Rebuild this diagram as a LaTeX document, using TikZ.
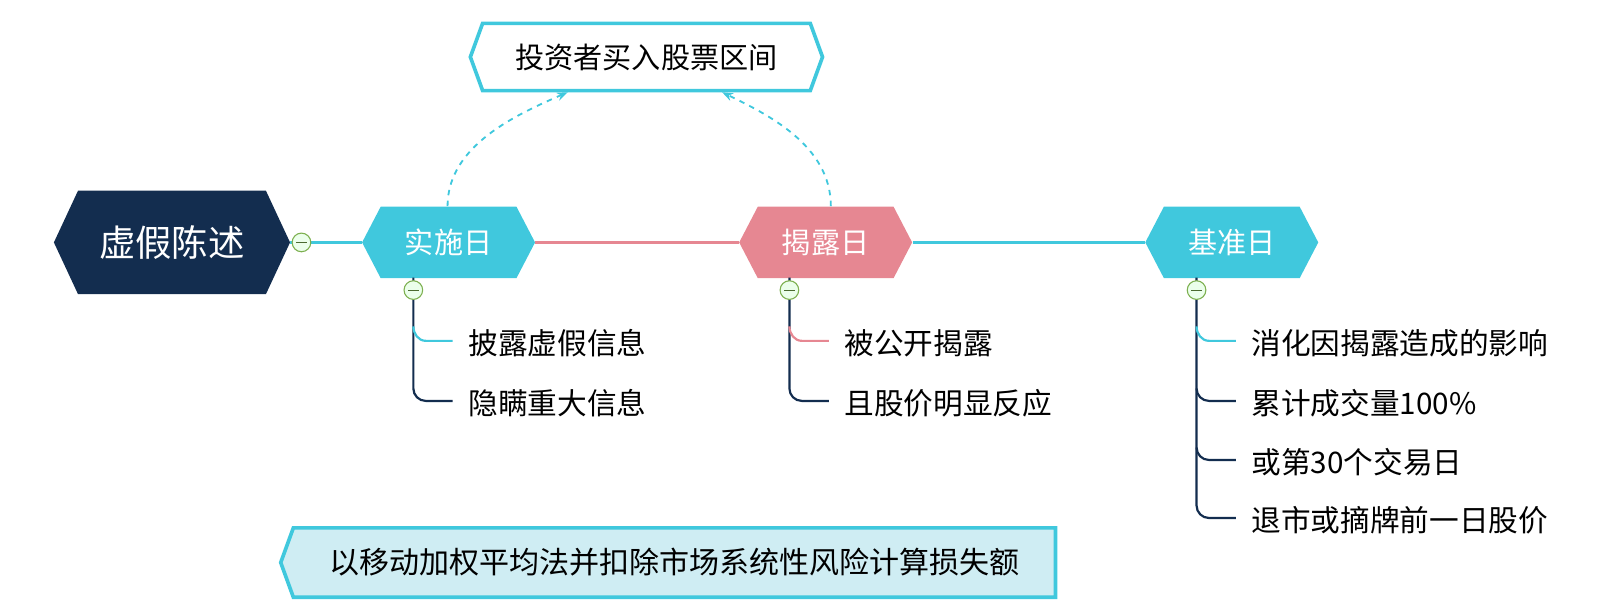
\documentclass[tikz,border=0pt]{standalone}
\usepackage{fontspec}
\setmainfont{Noto Sans CJK SC}
\usetikzlibrary{shapes.symbols,arrows.meta}
\definecolor{navy}{HTML}{132D4F}
\definecolor{cyanb}{HTML}{40C8DD}
\definecolor{pinkb}{HTML}{E68792}
\definecolor{paleb}{HTML}{CFEDF3}
\definecolor{knob}{HTML}{7DB050}
\tikzset{
  hexa/.style={signal, signal to=east and west, signal pointer angle=125, inner sep=0pt, font=\fontsize{16}{16}\selectfont},
  day/.style={hexa, fill=cyanb, text=white, minimum width=3.34cm, minimum height=1.38cm},
  leaf/.style={anchor=west, font=\fontsize{16.3}{16}\selectfont, inner sep=1pt},
  knobc/.style={circle, draw=knob, fill=green!8, minimum size=0.36cm, inner sep=0pt, line width=0.6pt,
    path picture={\draw[knob!60!black, line width=0.6pt] ([xshift=-0.1cm]path picture bounding box.center) -- ([xshift=0.1cm]path picture bounding box.center);}},
  spanarrow/.style={cyanb, dashed, line width=1pt, -{Stealth[length=6pt]}},
}
\begin{document}
\begin{tikzpicture}[x=0.02cm, y=-0.02cm]
% main line
\node[hexa, fill=navy, text=white, minimum width=4.56cm, minimum height=2cm, signal pointer angle=130, font=\fontsize{20}{20}\selectfont] (root) at (166,234) {虚假陈述};
\node[day] (impl) at (433,234) {实施日};
\node[day, fill=pinkb] (disc) at (797,234) {揭露日};
\node[day] (base) at (1189,234) {基准日};
\draw[cyanb, line width=2pt] (root.east) -- (impl.west);
\draw[pinkb, line width=2pt] (impl.east) -- (disc.west);
\draw[cyanb, line width=2pt] (disc.east) -- (base.west);
% interval box
\node[hexa, draw=cyanb, line width=2pt, fill=white, signal pointer angle=140, minimum width=6.8cm, minimum height=1.3cm] (span) at (624,55) {投资者买入股票区间};
\coordinate (sa) at (548,89);
\coordinate (sb) at (697,89);
\coordinate (ia) at (432,199);
\coordinate (da) at (802,199);
\draw[spanarrow] (ia) .. controls (432,140) and (500,110) .. (sa);
\draw[spanarrow] (da) .. controls (802,140) and (740,110) .. (sb);
% children
\coordinate (a) at (399,268);
\coordinate (b) at (762,268);
\coordinate (c) at (1155,268);
\draw[navy, line width=1.2pt] (a) -- (399,375) to[out=-90,in=180] (411,387) -- (437,387);
\draw[cyanb, line width=1.2pt] (399,315) to[out=-90,in=180] (411,329) -- (437,329);
\draw[navy, line width=1.2pt] (b) -- (762,375) to[out=-90,in=180] (774,387) -- (800,387);
\draw[pinkb, line width=1.2pt] (762,315) to[out=-90,in=180] (774,329) -- (800,329);
\draw[navy, line width=1.2pt] (c) -- (1155,488) to[out=-90,in=180] (1167,500) -- (1193,500);
\draw[cyanb, line width=1.2pt] (1155,315) to[out=-90,in=180] (1167,329) -- (1193,329);
\draw[navy, line width=1.2pt] (1155,375) to[out=-90,in=180] (1167,387) -- (1193,387);
\draw[navy, line width=1.2pt] (1155,432) to[out=-90,in=180] (1167,444) -- (1193,444);
\node[leaf] (a1) at (450,331) {披露虚假信息};
\node[leaf] (a2) at (450,389) {隐瞒重大信息};
\node[leaf] (b1) at (813,331) {被公开揭露};
\node[leaf] (b2) at (813,389) {且股价明显反应};
\node[leaf] (c1) at (1206,331) {消化因揭露造成的影响};
\node[leaf] (c2) at (1206,389) {累计成交量100\%};
\node[leaf] (c3) at (1206,446) {或第30个交易日};
\node[leaf] (c4) at (1206,502) {退市或摘牌前一日股价};
% knobs
\node[knobc] (k0) at (291,234) {};
\node[knobc] (k1) at (399,280) {};
\node[knobc] (k2) at (762,280) {};
\node[knobc] (k3) at (1155,280) {};
% bottom note
\node[signal, signal to=west, signal pointer angle=140, draw=cyanb, fill=paleb, line width=2pt, minimum width=14.96cm, minimum height=1.34cm, inner sep=0pt, font=\fontsize{16.5}{17}\selectfont] (note) at (651,543) {以移动加权平均法并扣除市场系统性风险计算损失额};
\pgfresetboundingbox
\useasboundingbox (0,0) rectangle (1557,593);
\end{tikzpicture}
\end{document}
